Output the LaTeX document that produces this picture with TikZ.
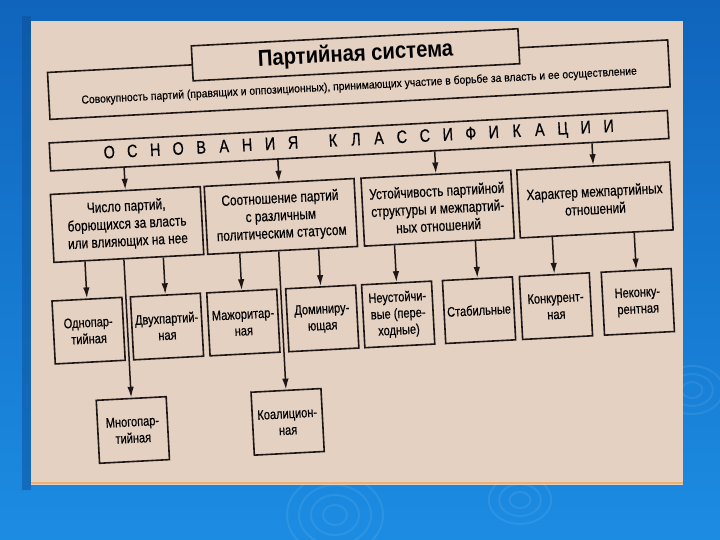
\documentclass[tikz,border=0pt]{standalone}
\usepackage{fontspec}
\setmainfont{Liberation Sans}[FakeStretch=0.8, FakeBold=0.4]
\newfontfamily\titlefont{Liberation Sans}[FakeStretch=0.88]
\newfontfamily\deffont{Liberation Sans}[FakeStretch=0.9, FakeBold=0.3]
\usetikzlibrary{arrows.meta,positioning,calc}
\definecolor{paper}{RGB}{228,209,194}
\definecolor{ink}{RGB}{30,22,22}
\definecolor{slidetop}{RGB}{16,100,188}
\definecolor{slidebot}{RGB}{28,140,226}
\newcommand{\wide}[1]{\makebox[23pt]{#1}}

\begin{document}
\begin{tikzpicture}[x=1pt, y=-1pt,
    box/.style={rectangle, draw=ink, line width=1.6pt, fill=paper, inner sep=2pt, align=center},
    crit/.style={box, minimum width=150pt, minimum height=68pt, font=\fontsize{14.8}{17.5}\selectfont},
    leaf/.style={box, minimum width=70pt, minimum height=63pt, font=\fontsize{13.8}{16.5}\selectfont},
    arrow/.style={-{Latex[length=11pt,width=6.5pt]}, draw=ink, line width=1.5pt}
]
\useasboundingbox (0,0) rectangle (720,540);
\shade[top color=slidetop, bottom color=slidebot] (0,0) rectangle (720,540);
% ripples on the slide
\foreach \r in {10,20,30,40} \draw[white, opacity=0.08, line width=2pt] (335,515) ellipse ({\r*1.2} and \r);
\foreach \r in {8,16,24} \draw[white, opacity=0.08, line width=2pt] (520,500) ellipse ({\r*1.3} and \r);
\foreach \r in {8,16,24} \draw[white, opacity=0.08, line width=2pt] (692,390) ellipse ({\r*1.3} and \r);
% the scanned page
\fill[slidetop!80!black, opacity=0.5] (22,16) rectangle (31,490);
\fill[paper] (31,21) rectangle (683,485);
\draw[orange!40!paper, line width=1.5pt] (31,483) -- (683,483);

\begin{scope}[rotate around={3:(357,255)}, transform shape]
\node[box, minimum width=621pt, minimum height=47pt, text height=21pt, text depth=2pt,
      font=\deffont\fontsize{11.5}{13}\selectfont] (def) at (368,80)
    {Совокупность партий (правящих и оппозиционных), принимающих участие в борьбе за власть и ее осуществление};
\node[box, minimum width=327pt, minimum height=35pt, font=\titlefont\bfseries\fontsize{23}{26}\selectfont] (title) at (366,55) {Партийная система};
\node[box, minimum width=619pt, minimum height=28pt, font=\fontsize{18}{20}\selectfont] (base) at (365,141)
    {\wide{О}\wide{С}\wide{Н}\wide{О}\wide{В}\wide{А}\wide{Н}\wide{И}\wide{Я}\hspace{17pt}%
     \wide{К}\wide{Л}\wide{А}\wide{С}\wide{С}\wide{И}\wide{Ф}\wide{И}\wide{К}\wide{А}\wide{Ц}\wide{И}\wide{И}};

\node[crit] (num) at (129,212.5) {Число партий,\\борющихся за власть\\или влияющих на нее};
\node[crit] (ratio) at (283,212.5) {Соотношение партий\\с различным\\политическим статусом};
\node[crit] (stab) at (440,212.5) {Устойчивость партийной\\структуры и межпартий-\\ных отношений};
\node[crit, minimum width=153pt] (char) at (597.5,212.5) {Характер межпартийных\\отношений};

\node[leaf] (one) at (85,316.5) {Однопар-\\тийная};
\node[leaf] (two) at (163.5,316.5) {Двухпартий-\\ная};
\node[leaf] (multi) at (124,418) {Многопар-\\тийная};
\node[leaf] (maj) at (240,316.5) {Мажоритар-\\ная};
\node[leaf] (coal) at (279,418) {Коалицион-\\ная};
\node[leaf] (dom) at (319,316.5) {Доминиру-\\ющая};
\node[leaf] (unst) at (395,316.5) {Неустойчи-\\вые (пере-\\ходные)};
\node[leaf] (stable) at (476,316.5) {Стабильные};
\node[leaf] (comp) at (553,316.5) {Конкурент-\\ная};
\node[leaf] (noncomp) at (635,316.5) {Неконку-\\рентная};

\draw[arrow] ($(base.south west)!(num.north)!(base.south east)$) -- (num.north);
\draw[arrow] ($(base.south west)!(ratio.north)!(base.south east)$) -- (ratio.north);
\draw[arrow] ($(base.south west)!(stab.north)!(base.south east)$) -- (stab.north);
\draw[arrow] ($(base.south west)!(char.north)!(base.south east)$) -- (char.north);
\draw[arrow] ($(num.south west)!(one.north)!(num.south east)$) -- (one.north);
\draw[arrow] ($(num.south west)!(two.north)!(num.south east)$) -- (two.north);
\draw[arrow] ($(num.south west)!(multi.north)!(num.south east)$) -- (multi.north);
\draw[arrow] ($(ratio.south west)!(maj.north)!(ratio.south east)$) -- (maj.north);
\draw[arrow] ($(ratio.south west)!(coal.north)!(ratio.south east)$) -- (coal.north);
\draw[arrow] ($(ratio.south west)!(dom.north)!(ratio.south east)$) -- (dom.north);
\draw[arrow] ($(stab.south west)!(unst.north)!(stab.south east)$) -- (unst.north);
\draw[arrow] ($(stab.south west)!(stable.north)!(stab.south east)$) -- (stable.north);
\draw[arrow] ($(char.south west)!(comp.north)!(char.south east)$) -- (comp.north);
\draw[arrow] ($(char.south west)!(noncomp.north)!(char.south east)$) -- (noncomp.north);
\end{scope}
\end{tikzpicture}
\end{document}
